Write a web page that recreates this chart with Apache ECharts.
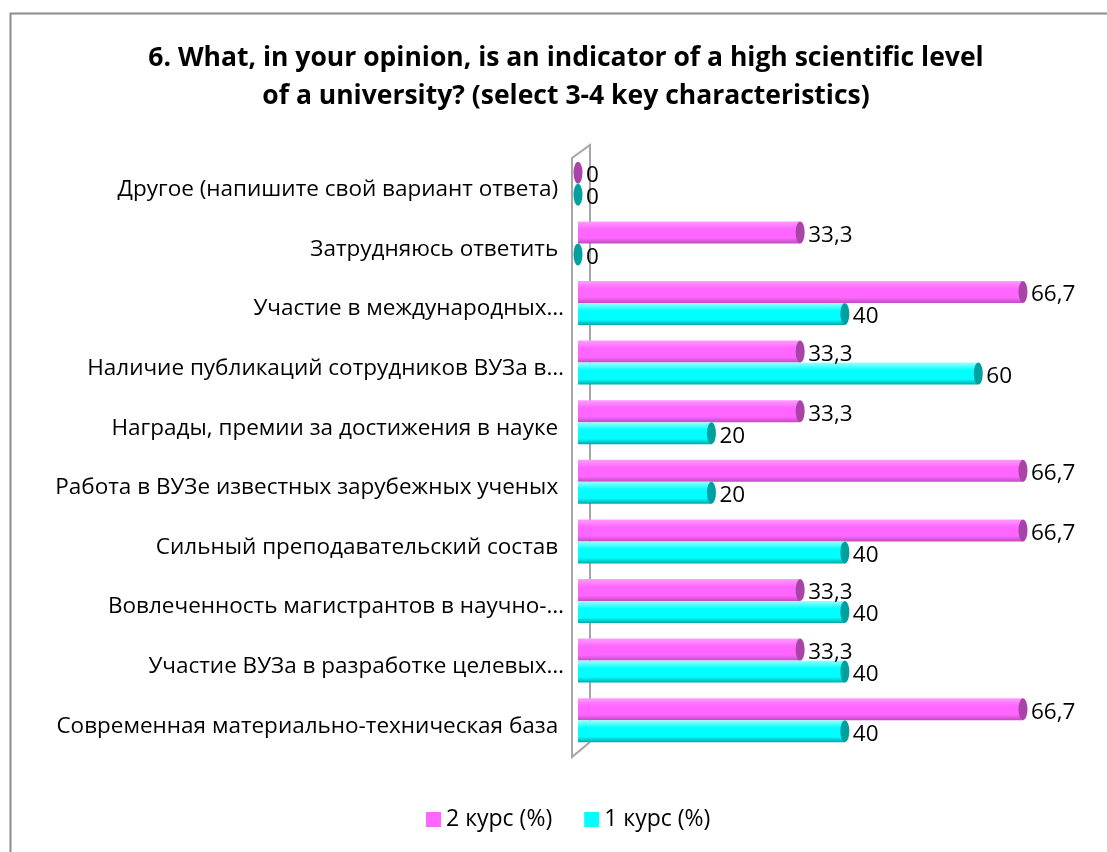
<!DOCTYPE html>
<html>
<head>
<meta charset="utf-8">
<script src="https://cdn.jsdelivr.net/npm/echarts@6/dist/echarts.min.js"></script>
<style>html,body{margin:0;padding:0;background:#fff}#c{width:1107px;height:852px}</style>
</head>
<body>
<div id="c"></div>
<script>
// Categories listed top to bottom
var categories = [
  'Другое (напишите свой вариант ответа) ',
  'Затрудняюсь ответить ',
  'Участие в международных…',
  'Наличие публикаций сотрудников ВУЗа в…',
  'Награды, премии за достижения в науке ',
  'Работа в ВУЗе известных зарубежных ученых ',
  'Сильный преподавательский состав ',
  'Вовлеченность магистрантов в научно-…',
  'Участие ВУЗа в разработке целевых…',
  'Современная материально-техническая база '
];
var seriesNames = ['2 курс (%)', '1 курс (%)'];
var course2 = [0, 33.3, 66.7, 33.3, 33.3, 66.7, 66.7, 33.3, 33.3, 66.7];
var course1 = [0, 0, 40, 60, 20, 20, 40, 40, 40, 40];

var FONT = '"Open Sans", "Noto Sans", sans-serif';
var gridLeft = 578, gridTop = 154, gridBottomY = 750;

function grad(c1, c2, c3) {
  return new echarts.graphic.LinearGradient(0, 0, 0, 1, [
    {offset: 0, color: c1}, {offset: 0.35, color: c2}, {offset: 0.75, color: c2}, {offset: 1, color: c3}
  ]);
}
var pinkFill = grad('#FF9CFF', '#FF66FF', '#C04CC0');
var cyanFill = grad('#9CFFFF', '#00FFFF', '#00A8A8');

function fmt(p) { return String(p.value).replace('.', ','); }

var chart = echarts.init(document.getElementById('c'), null, {renderer: 'canvas'});
var option = {
  backgroundColor: '#fff',
  animation: false,
  title: {
    text: '6. What, in your opinion, is an indicator of a high scientific level\nof a university? (select 3-4 key characteristics)',
    left: 566,
    top: 39,
    padding: 0,
    textAlign: 'center',
    textStyle: {fontFamily: FONT, fontWeight: 'bold', fontSize: 26.5, lineHeight: 38, color: '#000'}
  },
  legend: {
    bottom: 21,
    left: 426,
    padding: 0,
    itemWidth: 15, itemHeight: 15, itemGap: 32,
    icon: 'rect',
    textStyle: {fontFamily: FONT, fontSize: 23, color: '#000'},
    data: [
      {name: seriesNames[0], itemStyle: {color: '#FF66FF'}},
      {name: seriesNames[1], itemStyle: {color: '#00FFFF'}}
    ]
  },
  grid: {left: gridLeft, top: gridTop, height: gridBottomY - gridTop, right: 1107 - gridLeft - 467, containLabel: false},
  xAxis: {type: 'value', min: 0, max: 70, show: false},
  yAxis: {
    type: 'category', inverse: true, data: categories,
    axisLine: {show: false}, axisTick: {show: false},
    axisLabel: {fontFamily: FONT, fontSize: 22.5, color: '#000', margin: 14, verticalAlign: 'top', lineHeight: 12}
  },
  series: [
    {
      name: seriesNames[0], type: 'bar', data: course2, barWidth: 22, barGap: '0%',
      itemStyle: {color: pinkFill},
      label: {show: true, position: 'right', distance: 8, offset: [0, 3], formatter: fmt, fontFamily: FONT, fontSize: 22.5, color: '#000'},
      z: 3
    },
    {
      name: seriesNames[1], type: 'bar', data: course1, barWidth: 22, barGap: '0%',
      itemStyle: {color: cyanFill},
      label: {show: true, position: 'right', distance: 8, offset: [0, 3], formatter: fmt, fontFamily: FONT, fontSize: 22.5, color: '#000'},
      z: 3
    },
    {
      name: 'cap2', type: 'pictorialBar', data: course2, barWidth: 22, barGap: '0%',
      symbol: 'circle', symbolSize: [9, 22], symbolPosition: 'end', symbolOffset: ['50%', 0],
      itemStyle: {color: '#A844A8'}, z: 4, silent: true
    },
    {
      name: 'cap1', type: 'pictorialBar', data: course1, barWidth: 22, barGap: '0%',
      symbol: 'circle', symbolSize: [9, 22], symbolPosition: 'end', symbolOffset: ['50%', 0],
      itemStyle: {color: '#00A0A0'}, z: 4, silent: true
    }
  ],
  graphic: [
    {type: 'rect', z: 0, shape: {x: 10.5, y: 13.5, width: 1200, height: 1000}, style: {fill: null, stroke: '#8C8C8C', lineWidth: 2}},
    {type: 'polyline', z: 1, shape: {points: [
      [gridLeft + 12, gridBottomY - 8], [gridLeft + 12, gridTop - 9], [gridLeft - 6, gridTop + 4],
      [gridLeft - 6, gridBottomY + 7], [gridLeft + 12, gridBottomY - 8]
    ]}, style: {fill: null, stroke: '#A6A6A6', lineWidth: 2}}
  ]
};
chart.setOption(option);
</script>
</body>
</html>
